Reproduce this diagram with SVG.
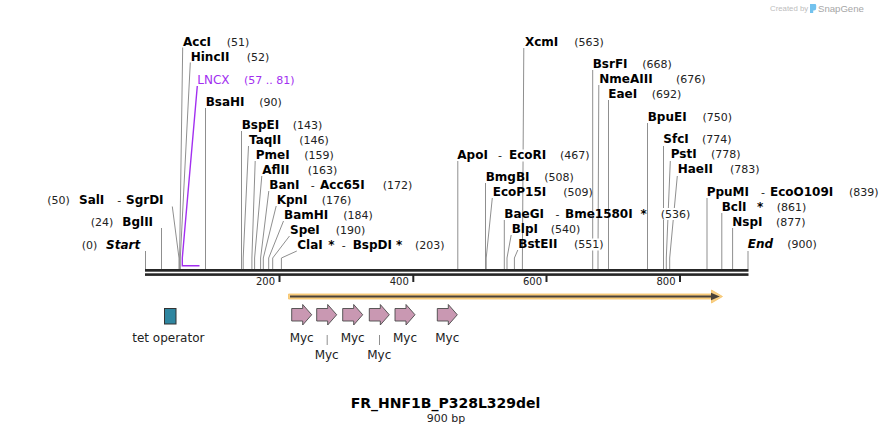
<svg xmlns="http://www.w3.org/2000/svg" width="894" height="435" viewBox="0 0 894 435">
<style>
.n{font-family:"DejaVu Sans",Verdana,sans-serif;font-weight:bold;font-size:12px;fill:#000}
.it{font-style:italic}
.p{font-family:"DejaVu Sans",Verdana,sans-serif;font-size:11px;fill:#222}
.d{font-family:"DejaVu Sans",Verdana,sans-serif;font-size:11px;fill:#222}
.f{font-family:"DejaVu Sans",Verdana,sans-serif;font-size:12px;fill:#222}
.pu{fill:#a22ff0}
.bg{fill:#fff}
.tk{font-family:"DejaVu Sans",Verdana,sans-serif;font-size:10px;fill:#222;text-anchor:end}
.l{stroke:#8f8f8f;stroke-width:1;fill:none}
.lp{stroke:#a22ff0;stroke-width:1.4;fill:none}
.ax{fill:#262626}
.myc{fill:#c998b2;stroke:#4a4a4a;stroke-width:0.9}
.ttl{font-family:"DejaVu Sans",Verdana,sans-serif;font-weight:bold;font-size:14px;fill:#000;text-anchor:middle}
.sub{font-family:"DejaVu Sans",Verdana,sans-serif;font-size:11px;fill:#222;text-anchor:middle}
</style>
<defs>
<path id="mycArrow" class="myc" d="M0,308.5 H11 V304.5 L20,314.75 L11,325 V321 H0 Z"/>
</defs>
<rect width="894" height="435" fill="#fff"/>

<!-- logo -->
<g id="logo">
<text x="770" y="10.5" style="font-family:'Liberation Sans',Arial,sans-serif;font-size:7.8px;fill:#bdbdbd">Created by</text>
<path d="M810,4 h5 a1.2,1.2 0 0 1 1.2,1.2 v3 q0,2.2 -2.2,2.2 h-0.8 v2.6 h-3.2 z" fill="#72c2ee"/>
<text x="818" y="11.5" style="font-family:'Liberation Sans',Arial,sans-serif;font-size:9.6px;fill:#a6a6a6">SnapGene</text>
</g>

<!-- connectors -->
<g id="connectors">
<path class="l" d="M182.7,47.5 L179.6,258 V269"/>
<path class="l" d="M190.3,62.5 L180.3,258 V269"/>
<path class="lp" d="M197.3,86 L182.3,258 V265.7 H199.5"/>
<path class="l" d="M205.5,108 V269"/>
<path class="l" d="M241.5,131 V269"/>
<path class="l" d="M248.5,146 L243.2,258 V269"/>
<path class="l" d="M255.2,161 L251.9,258 V269"/>
<path class="l" d="M261.8,176 L254.6,258 V269"/>
<path class="l" d="M268.8,191 L260.6,258 V269"/>
<path class="l" d="M276.2,206 L263.3,258 V269"/>
<path class="l" d="M283.5,221 L268.7,258 V269"/>
<path class="l" d="M289.5,236 L272.7,258 V269"/>
<path class="l" d="M296.8,251 L281.4,258 V269"/>
<path class="l" d="M172.3,206.5 L179,258 V269"/>
<path class="l" d="M161.5,228 V269"/>
<path class="l" d="M145.5,251 V269"/>
<path class="l" d="M523.8,48 L522.4,258 V269"/>
<path class="l" d="M457.8,161 V269"/>
<path class="l" d="M485.5,183 V269"/>
<path class="l" d="M492.3,198 L486.2,258 V269"/>
<path class="l" d="M504.3,220 V269"/>
<path class="l" d="M511.2,235 L507,258 V269"/>
<path class="l" d="M517.8,250 L514.4,258 V269"/>
<path class="l" d="M592.7,70 V269"/>
<path class="l" d="M598.8,85 L598,258 V269"/>
<path class="l" d="M608.5,100 V269"/>
<path class="l" d="M647.5,123 V269"/>
<path class="l" d="M663.5,146 V269"/>
<path class="l" d="M670.3,161 L666.3,258 V269"/>
<path class="l" d="M677.3,176 L669.7,258 V269"/>
<path class="l" d="M707,198 V269"/>
<path class="l" d="M721.8,213 V269"/>
<path class="l" d="M732.6,228 V269"/>
<path class="l" d="M748,251 V269"/>
</g>

<!-- axis -->
<g id="axis">
<rect class="ax" x="145" y="269" width="603.5" height="2.7"/>
<rect class="ax" x="145" y="273.3" width="603.5" height="2.6"/>
<rect class="ax" x="278.5" y="275" width="2" height="7"/>
<rect class="ax" x="412.3" y="275" width="2" height="7"/>
<rect class="ax" x="545.5" y="275" width="2" height="7"/>
<rect class="ax" x="679" y="275" width="2" height="7"/>
<text class="tk" x="275" y="284.5">200</text>
<text class="tk" x="408.8" y="284.5">400</text>
<text class="tk" x="542" y="284.5">600</text>
<text class="tk" x="675.5" y="284.5">800</text>
</g>

<!-- left labels -->
<g id="AccI"><text class="n" x="183" y="45.7">AccI</text><text class="p" x="226.7" y="45.7">(51)</text></g>
<g id="HincII"><text class="n" x="190.7" y="60.7">HincII</text><text class="p" x="246.7" y="60.7">(52)</text></g>
<g id="LNCX"><text class="f pu" x="197.3" y="84">LNCX</text><text class="p pu" x="244" y="84">(57 .. 81)</text></g>
<g id="BsaHI"><text class="n" x="205.7" y="105.7">BsaHI</text><text class="p" x="259.3" y="105.7">(90)</text></g>
<g id="BspEI"><text class="n" x="241.7" y="129">BspEI</text><text class="p" x="292.7" y="129">(143)</text></g>
<g id="TaqII"><text class="n" x="249" y="144">TaqII</text><text class="p" x="299.3" y="144">(146)</text></g>
<g id="PmeI"><text class="n" x="255.7" y="158.7">PmeI</text><text class="p" x="304.3" y="158.7">(159)</text></g>
<g id="AflII"><text class="n" x="262.3" y="173.7">AflII</text><text class="p" x="307.7" y="173.7">(163)</text></g>
<g id="BanI"><text class="n" x="269.3" y="188.7">BanI</text><text class="d" x="310.7" y="188.7">-</text><text class="n" x="320" y="188.7">Acc65I</text><text class="p" x="382.7" y="188.7">(172)</text></g>
<g id="KpnI"><text class="n" x="276.7" y="203.7">KpnI</text><text class="p" x="321.7" y="203.7">(176)</text></g>
<g id="BamHI"><text class="n" x="284" y="218.7">BamHI</text><text class="p" x="343.3" y="218.7">(184)</text></g>
<g id="SpeI"><text class="n" x="290" y="233.7">SpeI</text><text class="p" x="335.7" y="233.7">(190)</text></g>
<g id="ClaI"><text class="n" x="297.3" y="248.7">ClaI</text><text class="n" x="328.3" y="248.7">*</text><text class="d" x="341.7" y="248.7">-</text><text class="n" x="352.7" y="248.7">BspDI</text><text class="n" x="396" y="248.7">*</text><text class="p" x="415" y="248.7">(203)</text></g>
<g id="SalI"><text class="p" x="47.3" y="204">(50)</text><text class="n" x="79" y="204">SalI</text><text class="d" x="117.3" y="204">-</text><text class="n" x="126" y="204">SgrDI</text></g>
<g id="BglII"><text class="p" x="90.7" y="225.7">(24)</text><text class="n" x="122.3" y="225.7">BglII</text></g>
<g id="Start"><text class="p" x="81.7" y="249">(0)</text><text class="n it" x="106" y="249">Start</text></g>

<!-- right labels -->
<g id="XcmI"><text class="n" x="525" y="45.7">XcmI</text><text class="p" x="574.3" y="45.7">(563)</text></g>
<g id="ApoI"><rect class="bg" x="507" y="149.5" width="43" height="12"/><text class="n" x="457.3" y="159">ApoI</text><text class="d" x="498" y="159">-</text><text class="n" x="509" y="159">EcoRI</text><text class="p" x="560" y="159">(467)</text></g>
<g id="BmgBI"><text class="n" x="485.7" y="180.7">BmgBI</text><text class="p" x="544.3" y="180.7">(508)</text></g>
<g id="EcoP15I"><text class="n" x="492.7" y="195.7">EcoP15I</text><text class="p" x="563.3" y="195.7">(509)</text></g>
<g id="BaeGI"><rect class="bg" x="659.5" y="208" width="31" height="12"/><text class="n" x="504.3" y="217.5">BaeGI</text><text class="d" x="555.5" y="217.5">-</text><text class="n" x="565" y="217.5">Bme1580I</text><text class="n" x="640.5" y="217.5">*</text><text class="p" x="660.7" y="217.5">(536)</text></g>
<g id="BlpI"><text class="n" x="511.7" y="232.7">BlpI</text><text class="p" x="550.7" y="232.7">(540)</text></g>
<g id="BstEII"><rect class="bg" x="573" y="238.5" width="31" height="12"/><text class="n" x="518.3" y="247.7">BstEII</text><text class="p" x="574" y="247.7">(551)</text></g>
<g id="BsrFI"><text class="n" x="592.7" y="68.3">BsrFI</text><text class="p" x="642.3" y="68.3">(668)</text></g>
<g id="NmeAIII"><text class="n" x="599.3" y="83.3">NmeAIII</text><text class="p" x="676" y="83.3">(676)</text></g>
<g id="EaeI"><text class="n" x="608.3" y="98.3">EaeI</text><text class="p" x="651.7" y="98.3">(692)</text></g>
<g id="BpuEI"><text class="n" x="647.7" y="120.7">BpuEI</text><text class="p" x="702.5" y="120.7">(750)</text></g>
<g id="SfcI"><text class="n" x="663.3" y="143.3">SfcI</text><text class="p" x="702" y="143.3">(774)</text></g>
<g id="PstI"><text class="n" x="670.7" y="158.3">PstI</text><text class="p" x="711" y="158.3">(778)</text></g>
<g id="HaeII"><text class="n" x="677.7" y="173.3">HaeII</text><text class="p" x="730" y="173.3">(783)</text></g>
<g id="PpuMI"><text class="n" x="706.7" y="195.7">PpuMI</text><text class="d" x="761" y="195.7">-</text><text class="n" x="770" y="195.7">EcoO109I</text><text class="p" x="849" y="195.7">(839)</text></g>
<g id="BclI"><text class="n" x="721.7" y="210.7">BclI</text><text class="n" x="757" y="210.7">*</text><text class="p" x="776.7" y="210.7">(861)</text></g>
<g id="NspI"><text class="n" x="732.3" y="225.7">NspI</text><text class="p" x="776" y="225.7">(877)</text></g>
<g id="End"><text class="n it" x="747.7" y="248.3">End</text><text class="p" x="787.3" y="248.3">(900)</text></g>

<!-- features -->
<g id="orf">
<path d="M288.5,294 H711.5 V290 L722.5,296.5 L711.5,303 V299 H288.5 Z" fill="#f9cf84" stroke="#f5c266" stroke-width="0.8"/>
<path d="M290,296.5 H713" stroke="#4a4238" stroke-width="2" fill="none"/>
<polygon points="711,292.8 719.8,296.5 711,300.2" fill="#4a4238"/>
</g>
<g id="tet-operator">
<rect x="164.5" y="308.5" width="11.5" height="15.5" fill="#2f86a0" stroke="#333" stroke-width="1"/>
<text class="f" x="168.3" y="342.3" text-anchor="middle">tet operator</text>
</g>
<g id="Myc1"><use href="#mycArrow" x="291.7"/><text class="f" x="301.7" y="342.3" text-anchor="middle">Myc</text></g>
<g id="Myc2"><use href="#mycArrow" x="316.7"/><path class="l" d="M327.2,335 V345"/><text class="f" x="326.7" y="359" text-anchor="middle">Myc</text></g>
<g id="Myc3"><use href="#mycArrow" x="342.7"/><text class="f" x="352.7" y="342.3" text-anchor="middle">Myc</text></g>
<g id="Myc4"><use href="#mycArrow" x="369.3"/><path class="l" d="M379.5,335 V345"/><text class="f" x="379.3" y="359" text-anchor="middle">Myc</text></g>
<g id="Myc5"><use href="#mycArrow" x="395"/><text class="f" x="405" y="342.3" text-anchor="middle">Myc</text></g>
<g id="Myc6"><use href="#mycArrow" x="437.3"/><text class="f" x="447.3" y="342.3" text-anchor="middle">Myc</text></g>

<g id="title">
<text class="ttl" x="445.5" y="408">FR_HNF1B_P328L329del</text>
<text class="sub" x="446" y="422.3">900 bp</text>
</g>
</svg>
